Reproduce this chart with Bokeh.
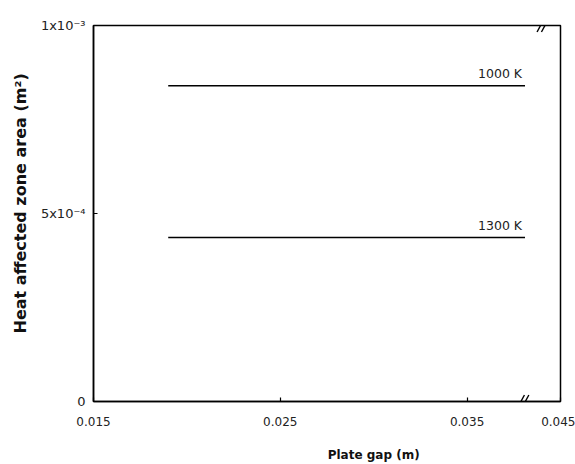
from bokeh.plotting import figure
from bokeh.models import FixedTicker, Range1d, ColumnDataSource, Title, LinearAxis
from bokeh.core.properties import value
from bokeh.embed import file_html
from bokeh.resources import INLINE

# ---- data ----
temperatures = ["1000 K", "1300 K"]
haz_area = [8.40e-4, 4.36e-4]          # heat affected zone area (m^2)
gap_range = [0.0190, 0.0381]           # plate gap span of each line (m)

X_START, X_END = 0.015, 0.0400         # axis is broken before its end
Y_START, Y_END = 0.0, 0.001
x_ticks = [X_START, 0.025, 0.035, X_END]
x_tick_labels = ["0.015", "0.025", "0.035", "0.045"]
y_ticks = [0.0, 0.0005, 0.001]
y_tick_labels = ["0", "5x10\u207b\u2074", "1x10\u207b\u00b3"]
break_x_top = 0.03905                  # "//" break marks
break_x_bottom = 0.03800
x_title = "Plate gap (m)"
x_title_pos = 0.0300                   # x title is set right of centre
y_title = "Heat affected zone area (m\u00b2)"

FONT = "DejaVu Sans"

p = figure(width=575, height=464, output_backend="svg", toolbar_location=None,
           x_range=Range1d(X_START, X_END), y_range=Range1d(Y_START, Y_END),
           min_border_left=93, min_border_right=15, min_border_top=25,
           min_border_bottom=63)
p.background_fill_color = "white"
p.border_fill_color = "white"
p.outline_line_color = "black"
p.outline_line_width = 1.5
p.xgrid.visible = False
p.ygrid.visible = False

xa = p.xaxis[0]
xa.ticker = FixedTicker(ticks=x_ticks)
xa.major_label_overrides = {t: l for t, l in zip(x_ticks, x_tick_labels)}
ya = p.yaxis[0]
ya.ticker = FixedTicker(ticks=y_ticks)
ya.major_label_overrides = {t: l for t, l in zip(y_ticks, y_tick_labels)}
for ax in (xa, ya):
    ax.axis_line_width = 1.5
    ax.axis_line_color = "black"
    ax.major_tick_in = 4
    ax.major_tick_out = 0
    ax.minor_tick_line_color = None
    ax.major_tick_line_width = 1.2
    ax.major_label_text_font = FONT
    ax.major_label_text_color = "#222222"
xa.major_label_text_font_size = "12px"
ya.major_label_text_font_size = "13px"
xa.major_label_standoff = 15
ya.major_label_standoff = 8

# x title carried by a bare second axis so it can sit right of centre
xt = LinearAxis(ticker=FixedTicker(ticks=[x_title_pos]),
                major_label_overrides={x_title_pos: x_title})
xt.axis_line_color = None
xt.major_tick_line_color = None
xt.minor_tick_line_color = None
xt.major_tick_in = 0
xt.major_tick_out = 0
xt.major_label_standoff = 19
xt.major_label_text_font = FONT
xt.major_label_text_font_size = "12px"
xt.major_label_text_font_style = "bold"
xt.major_label_text_color = "#111111"
p.add_layout(xt, "below")

# lines
for temp, area in zip(temperatures, haz_area):
    src = ColumnDataSource(dict(x=gap_range, y=[area, area]))
    p.line("x", "y", source=src, line_color="black", line_width=1.5)

lab_src = ColumnDataSource(dict(x=[gap_range[1]] * len(haz_area), y=haz_area,
                                t=temperatures))
p.text("x", "y", text="t", source=lab_src, text_align="right",
       text_baseline="bottom", x_offset=-3, y_offset=-5,
       text_font=value(FONT), text_font_size="12.5px", text_color="#222222")

# axis break marks (two short slanted strokes each)
dx = (X_END - X_START) / 467 * 3.5
dy = (Y_END - Y_START) / 376 * 6.5
bx0, bx1, by0, by1 = [], [], [], []
for bx, by in ((break_x_top, Y_END), (break_x_bottom, Y_START)):
    for shift in (-2.2 * dx / 3.5, 2.2 * dx / 3.5):
        bx0.append(bx + shift - dx)
        bx1.append(bx + shift + dx)
        by0.append(by - dy)
        by1.append(by + dy)
p.segment(bx0, by0, bx1, by1, line_color="black", line_width=1.4)

# y title
p.add_layout(Title(text=y_title, align="left", offset=68, text_font=FONT,
                   text_font_size="16px", text_font_style="bold",
                   text_color="#111111", standoff=16), "left")

open("out.html", "w").write(file_html(p, INLINE))
